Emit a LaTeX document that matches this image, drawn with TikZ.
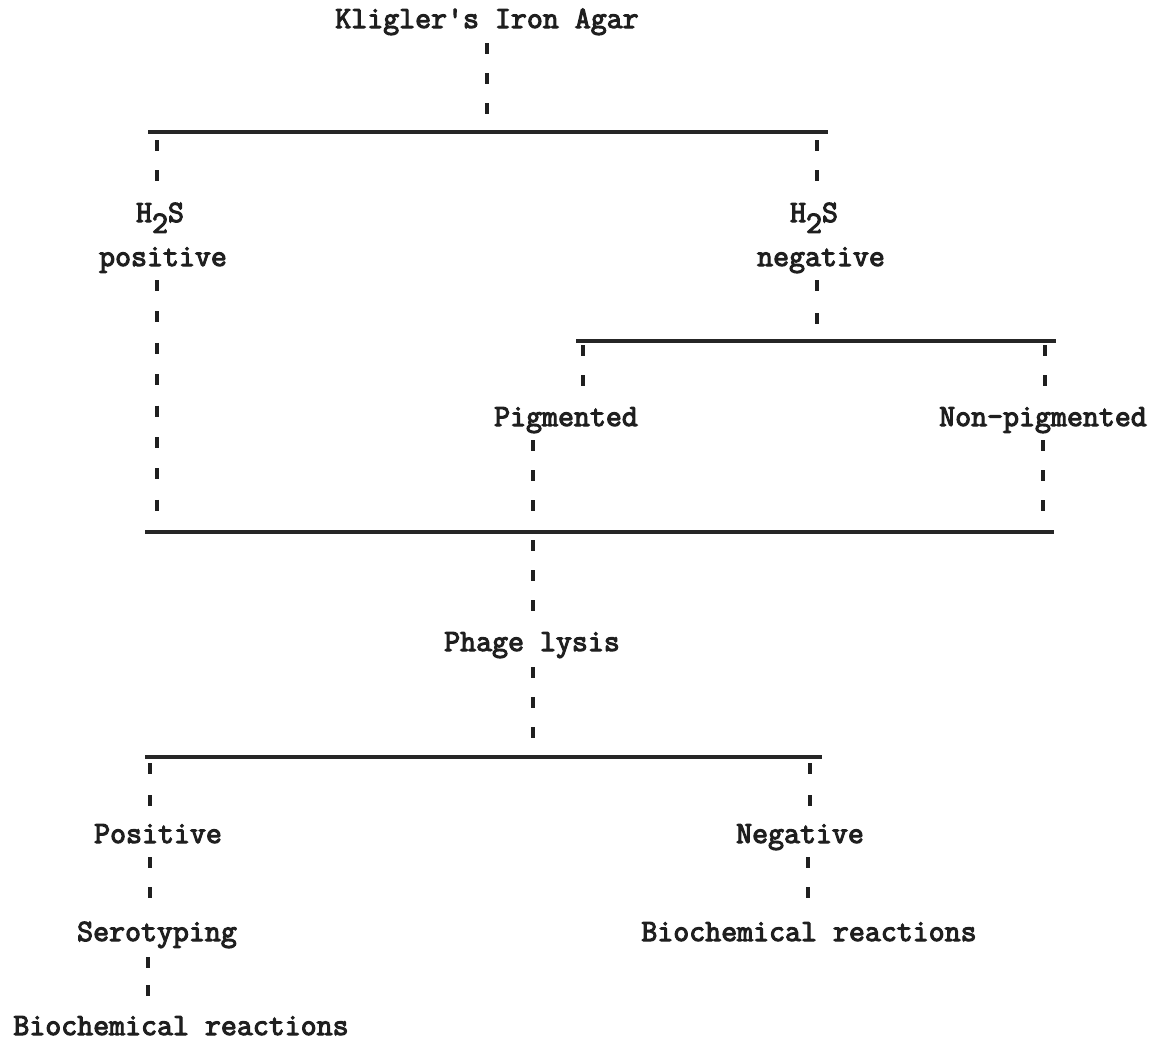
\documentclass[tikz,border=0pt]{standalone}
\usepackage{fontspec}
\newfontfamily\twfont{Latin Modern Mono}[FakeBold=3.5]
\begin{document}
\begin{tikzpicture}[x=1pt,y=-1pt,
  lbl/.style={inner sep=0pt,anchor=base,font=\twfont\fontsize{31}{34}\selectfont,text=black!88},
  ticks/.style={line width=4.4pt,dash pattern=on 11pt off 19pt,black!88},
  bar/.style={line width=3.2pt,black!85}]
\useasboundingbox (0,0) rectangle (1157,1042);
% text nodes
\node[lbl] (kia) at (487,28) {Kligler's Iron Agar};
\node[lbl] (hl) at (160,222) {H\raisebox{-0.35em}{2}S};
\node[lbl] (pos) at (163,266) {positive};
\node[lbl] (hr) at (814,222) {H\raisebox{-0.35em}{2}S};
\node[lbl] (neg) at (821,266) {negative};
\node[lbl] (pig) at (566,426) {Pigmented};
\node[lbl] (npig) at (1043,426) {Non-pigmented};
\node[lbl] (phage) at (532,651) {Phage lysis};
\node[lbl] (Pos) at (158,843) {Positive};
\node[lbl] (Neg) at (800,843) {Negative};
\node[lbl] (sero) at (157,941) {Serotyping};
\node[lbl] (bio1) at (809,941) {Biochemical reactions};
\node[lbl] (bio2) at (181,1035) {Biochemical reactions};
% bars
\coordinate (b1l) at (148,132); \coordinate (b1r) at (828,132);
\coordinate (b2l) at (576,341); \coordinate (b2r) at (1056,341);
\coordinate (b3l) at (145,532); \coordinate (b3r) at (1054,532);
\coordinate (b4l) at (145,757); \coordinate (b4r) at (822,757);
\draw[bar] (b1l) -- (b1r);
\draw[bar] (b2l) -- (b2r);
\draw[bar] (b3l) -- (b3r);
\draw[bar] (b4l) -- (b4r);
% connector ends
\coordinate (kiaS) at (487,43);
\coordinate (hlN) at (157,190);  \coordinate (hlT) at (157,140);
\coordinate (hrN) at (817,190);  \coordinate (hrT) at (817,140);
\coordinate (posS) at (157,280);
\coordinate (negS) at (817,280);
\coordinate (pigT) at (583,345); \coordinate (pigN) at (583,395);
\coordinate (npT) at (1045,345); \coordinate (npN) at (1045,395);
\coordinate (pigS) at (533,440);
\coordinate (npS) at (1043,440);
\coordinate (phT) at (533,540); \coordinate (phN) at (533,620);
\coordinate (phS) at (533,667);
\coordinate (PosT) at (150,763); \coordinate (PosN) at (150,812);
\coordinate (NegT) at (810,763); \coordinate (NegN) at (810,812);
\coordinate (PosS) at (150,857); \coordinate (seroN) at (150,907);
\coordinate (NegS) at (808,857); \coordinate (bioN) at (808,907);
\coordinate (seroS) at (148,957); \coordinate (bio2N) at (148,1002);
% connectors
\draw[ticks,shorten >=6pt] (kiaS) -- (kiaS |- b1l);
\draw[ticks] (hlT) -- (hlN);
\draw[ticks] (hrT) -- (hrN);
\draw[ticks,dash pattern=on 11pt off 20.4pt,shorten >=6pt] (posS) -- (posS |- b3l);
\draw[ticks,dash pattern=on 11pt off 22pt,shorten >=6pt] (negS) -- (negS |- b2l);
\draw[ticks] (pigT) -- (pigN);
\draw[ticks] (npT) -- (npN);
\draw[ticks,shorten >=6pt] (pigS) -- (pigS |- b3l);
\draw[ticks,shorten >=6pt] (npS) -- (npS |- b3l);
\draw[ticks] (phT) -- (phN);
\draw[ticks,shorten >=6pt] (phS) -- (phS |- b4l);
\draw[ticks,dash pattern=on 11pt off 21pt] (PosT) -- (PosN);
\draw[ticks,dash pattern=on 11pt off 21pt] (NegT) -- (NegN);
\draw[ticks] (PosS) -- (seroN);
\draw[ticks] (NegS) -- (bioN);
\draw[ticks,dash pattern=on 11pt off 17pt] (seroS) -- (bio2N);
\end{tikzpicture}
\end{document}
